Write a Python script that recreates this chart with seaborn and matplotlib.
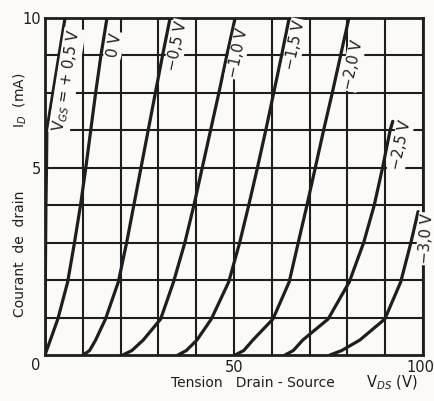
import numpy as np
import pandas as pd
import matplotlib
matplotlib.use("Agg")
import matplotlib.pyplot as plt
import matplotlib.transforms as mtransforms
import seaborn as sns

# Drain characteristics (V_DS in V, I_D in mA)
vds_p05 = [0, 0.1, 0.25, 0.4, 0.5, 2.1, 3.7, 5.3]
id_p05 = [0, 2.0, 4.0, 5.0, 6.25, 7.5, 8.75, 10]

vds_0 = [0, 3.4, 6.0, 7.8, 9.4, 10.8, 12.1, 13.4, 14.8, 16.4]
id_0 = [0, 0.96, 1.95, 3.0, 4.0, 5.0, 6.25, 7.5, 8.75, 10]

vds_m05 = [10.1, 11.8, 13.4, 16.0, 19.4, 21.6, 23.5, 25.4, 27.3, 29.2, 31.1, 33.1]
id_m05 = [0, 0.12, 0.4, 0.96, 1.95, 3.0, 4.0, 5.0, 6.25, 7.5, 8.75, 10]

vds_m10 = [20.6, 23.0, 26.0, 30.6, 34.0, 37.0, 39.4, 41.6, 43.8, 46.0, 48.1, 50.3]
id_m10 = [0, 0.12, 0.4, 0.96, 1.95, 3.0, 4.0, 5.0, 6.25, 7.5, 8.75, 10]

vds_m15 = [35.2, 37.4, 40.2, 44.0, 48.6, 51.5, 53.9, 56.2, 58.4, 60.5, 62.6, 64.6]
id_m15 = [0, 0.12, 0.4, 0.96, 1.95, 3.0, 4.0, 5.0, 6.25, 7.5, 8.75, 10]

vds_m20 = [50.3, 52.6, 55.0, 60.3, 64.6, 67.0, 69.3, 71.5, 73.7, 76.0, 78.2, 80.4]
id_m20 = [0, 0.12, 0.4, 0.96, 1.95, 3.0, 4.0, 5.0, 6.25, 7.5, 8.75, 10]

vds_m25 = [63.5, 65.7, 68.2, 74.9, 80.5, 84.3, 87.1, 89.3, 91.3, 92.0]
id_m25 = [0, 0.12, 0.4, 0.96, 1.95, 3.0, 4.0, 5.0, 6.25, 6.55]

vds_m30 = [75.4, 78.5, 83.3, 89.9, 94.1, 96.8, 98.7]
id_m30 = [0, 0.12, 0.4, 0.96, 1.95, 3.0, 3.83]

curve_names = ["+0,5", "0", "-0,5", "-1,0", "-1,5", "-2,0", "-2,5", "-3,0"]
curve_vds = [vds_p05, vds_0, vds_m05, vds_m10, vds_m15, vds_m20, vds_m25, vds_m30]
curve_id = [id_p05, id_0, id_m05, id_m10, id_m15, id_m20, id_m25, id_m30]

# curve labels: text, V_DS, I_D, rotation
label_text = ["V$_{GS}$ = + 0,5 V", "0 V", "\u22120,5 V", "\u22121,0 V",
              "\u22121,5 V", "\u22122,0 V", "\u22122,5 V", "\u22123,0 V"]
label_x = [5.8, 18.3, 34.9, 51.1, 66.1, 81.5, 94.2, 100.8]
label_y = [7.9, 9.1, 9.07, 8.83, 9.1, 8.43, 5.77, 3.1]
label_rot = [81, 80, 78, 78, 78, 78, 78, 86]

x_ticks = [50, 100]
x_tick_labels = ["50", "100"]
y_ticks = [5, 10]

rows = []
for name, xs, ys in zip(curve_names, curve_vds, curve_id):
    for x, y in zip(xs, ys):
        rows.append({"VGS": name, "VDS": x, "ID": y})
df = pd.DataFrame(rows)

sns.set_style("white")
plt.rcParams["font.family"] = ["DejaVu Sans"]

ink = "#1e1e1e"
paper = "#fbfaf6"

fig = plt.figure(figsize=(4.35, 4.01), dpi=100, facecolor=paper)
ax = fig.add_axes([0.1034, 0.1147, 0.869, 0.8404])
ax.set_facecolor(paper)

# the drawing uses 5 divisions for 0-5 mA and 4 divisions for 5-10 mA
def fwd(y):
    return np.interp(y, [0, 5, 10], [0, 5, 9])

def inv(y):
    return np.interp(y, [0, 5, 9], [0, 5, 10])

ax.set_yscale("function", functions=(fwd, inv))

sns.lineplot(data=df, x="VDS", y="ID", hue="VGS", units="VGS", estimator=None,
             sort=False, palette=[ink] * len(curve_names), linewidth=2.3,
             legend=False, ax=ax, zorder=3)

ax.set_xlim(0, 100)
ax.set_ylim(0, 10)
ax.set_xticks(x_ticks)
ax.set_xticklabels([])
ax.set_xticks(np.arange(10, 100, 10), minor=True)
ax.set_yticks(y_ticks)
ax.set_yticks([1, 2, 3, 4, 6.25, 7.5, 8.75], minor=True)
ax.grid(which="both", color=ink, linewidth=1.5)
ax.tick_params(which="both", length=0, labelsize=10.5, colors=ink, pad=3)
ax.set_xlabel("")
ax.set_ylabel("")
for s in ax.spines.values():
    s.set_color(ink)
    s.set_linewidth(2)

# x tick labels and the shared origin label
blend = mtransforms.blended_transform_factory(ax.transData, ax.transAxes)
for xt, lab in zip(x_ticks, x_tick_labels):
    ax.text(min(xt, 99.4), -0.016, lab, transform=blend, ha="center", va="top",
            fontsize=10.5, color=ink)
ax.text(-0.013, -0.01, "0", transform=ax.transAxes, ha="right", va="top",
        fontsize=10.5, color=ink)

for t, x, y, r in zip(label_text, label_x, label_y, label_rot):
    ax.text(x, y, t, rotation=r, rotation_mode="anchor", ha="center", va="center",
            fontsize=10.5, color=ink, zorder=10, clip_on=False,
            bbox=dict(boxstyle="square,pad=0.1", fc=paper, ec="none"))

ax.text(0.55, -0.083, "Tension   Drain - Source", transform=ax.transAxes,
        ha="center", va="center", fontsize=10, color=ink)
ax.text(0.918, -0.083, "V$_{DS}$ (V)", transform=ax.transAxes,
        ha="center", va="center", fontsize=10.5, color=ink)
ax.text(-0.066, 0.30, "Courant  de  drain", transform=ax.transAxes, rotation=90,
        ha="center", va="center", fontsize=10, color=ink)
ax.text(-0.066, 0.757, "I$_D$  (mA)", transform=ax.transAxes, rotation=90,
        ha="center", va="center", fontsize=10, color=ink)

fig.savefig("out.png", dpi=100, facecolor=paper)
